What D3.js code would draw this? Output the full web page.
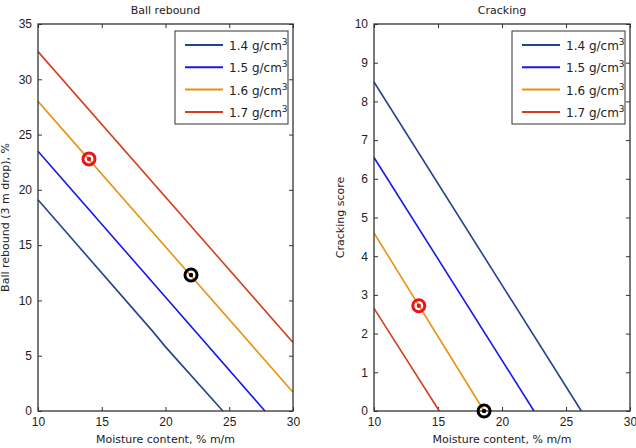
<!DOCTYPE html>
<html>
<head>
<meta charset="utf-8">
<script src="https://cdn.jsdelivr.net/npm/d3@7"></script>
<style>
  body { margin: 0; background: #fff; }
  svg { font-family: "DejaVu Sans", sans-serif; }
</style>
</head>
<body>
<div id="chart"></div>
<script>
// densities, shared by both panels
const densities = ["1.4", "1.5", "1.6", "1.7"];
const colors = ["#26418f", "#1717f0", "#e8930f", "#d33f1d"];

// Ball rebound panel: [moisture, rebound]
const rebound14 = [[10, 19.1], [19, 7.2], [20, 5.8], [24.5, 0]];
const rebound15 = [[10, 23.5], [27.8, 0]];
const rebound16 = [[10, 28.0], [30, 1.7]];
const rebound17 = [[10, 32.5], [30, 6.2]];
const reboundRed = [14, 22.8];
const reboundBlack = [22, 12.3];
const reboundTicksY = [0, 5, 10, 15, 20, 25, 30, 35];

// Cracking panel: [moisture, score]
const crack14 = [[10, 8.5], [26.2, 0]];
const crack15 = [[10, 6.55], [22.5, 0]];
const crack16 = [[10, 4.6], [18.6, 0]];
const crack17 = [[10, 2.65], [15.1, 0]];
const crackRed = [13.5, 2.72];
const crackBlack = [18.6, 0];
const crackTicksY = [0, 1, 2, 3, 4, 5, 6, 7, 8, 9, 10];

const xTicks = [10, 15, 20, 25, 30];

const svg = d3.select("#chart").append("svg")
  .attr("width", 636).attr("height", 448);

function panel(opts) {
  const { left, right, top, bottom } = opts;
  const x = d3.scaleLinear().domain([10, 30]).range([left, right]);
  const y = d3.scaleLinear().domain(opts.yDomain).range([bottom, top]);
  const g = svg.append("g");

  // ticks inside, all four sides
  const tk = 4;
  g.append("g").attr("transform", `translate(0,${bottom})`)
    .call(d3.axisBottom(x).tickValues(xTicks).tickSizeInner(-tk).tickSizeOuter(0).tickPadding(6))
    .call(a => a.select(".domain").remove())
    .selectAll("text").style("font-size", "12px").attr("fill", "#222");
  g.append("g").attr("transform", `translate(0,${top})`)
    .call(d3.axisTop(x).tickValues(xTicks).tickSizeInner(-tk).tickSizeOuter(0).tickFormat(""))
    .call(a => a.select(".domain").remove());
  g.append("g").attr("transform", `translate(${left},0)`)
    .call(d3.axisLeft(y).tickValues(opts.yTicks).tickSizeInner(-tk).tickSizeOuter(0).tickPadding(6))
    .call(a => a.select(".domain").remove())
    .selectAll("text").style("font-size", "12px").attr("fill", "#222");
  g.append("g").attr("transform", `translate(${right},0)`)
    .call(d3.axisRight(y).tickValues(opts.yTicks).tickSizeInner(-tk).tickSizeOuter(0).tickFormat(""))
    .call(a => a.select(".domain").remove());
  g.selectAll(".tick line").attr("stroke", "#333");

  const line = d3.line().x(d => x(d[0])).y(d => y(d[1]));
  opts.series.forEach((s, i) => {
    g.append("path").attr("d", line(s))
      .attr("fill", "none").attr("stroke", colors[i]).attr("stroke-width", 1.6);
  });

  // frame
  g.append("rect").attr("x", left).attr("y", top)
    .attr("width", right - left).attr("height", bottom - top)
    .attr("fill", "none").attr("stroke", "#333").attr("stroke-width", 1.3);

  // target markers
  [[opts.red, "#e8141a"], [opts.black, "#000"]].forEach(([p, c]) => {
    g.append("circle").attr("cx", x(p[0])).attr("cy", y(p[1])).attr("r", 6)
      .attr("fill", "none").attr("stroke", c).attr("stroke-width", 3);
    g.append("circle").attr("cx", x(p[0])).attr("cy", y(p[1])).attr("r", 2.2).attr("fill", c);
  });

  // legend
  const lg = g.append("g").attr("transform", `translate(${right - 118},${top + 7})`);
  lg.append("rect").attr("width", 113).attr("height", 93)
    .attr("fill", "#fff").attr("stroke", "#333").attr("stroke-width", 1);
  densities.forEach((d, i) => {
    const yy = 14 + i * 22.3;
    lg.append("line").attr("x1", 10).attr("x2", 48).attr("y1", yy).attr("y2", yy)
      .attr("stroke", colors[i]).attr("stroke-width", 2);
    const t = lg.append("text").attr("x", 54).attr("y", yy + 5)
      .style("font-size", "12px").attr("fill", "#222");
    t.append("tspan").text(d + " g/cm");
    t.append("tspan").attr("dy", -5).style("font-size", "9px").text("3");
  });

  // titles
  g.append("text").attr("x", (left + right) / 2).attr("y", 14)
    .attr("text-anchor", "middle").style("font-size", "11px").attr("fill", "#222").text(opts.title);
  g.append("text").attr("x", (left + right) / 2).attr("y", 443)
    .attr("text-anchor", "middle").style("font-size", "11px").attr("fill", "#222")
    .text("Moisture content, % m/m");
  g.append("text")
    .attr("transform", `translate(${opts.ylabX},${(top + bottom) / 2}) rotate(-90)`)
    .attr("text-anchor", "middle").style("font-size", "11px").attr("fill", "#222")
    .text(opts.ylabel);
}

panel({
  left: 38, right: 293, top: 24, bottom: 411,
  yDomain: [0, 35], yTicks: reboundTicksY,
  series: [rebound14, rebound15, rebound16, rebound17],
  red: reboundRed, black: reboundBlack,
  title: "Ball rebound", ylabel: "Ball rebound (3 m drop), %", ylabX: 9
});

panel({
  left: 374, right: 630, top: 24, bottom: 411,
  yDomain: [0, 10], yTicks: crackTicksY,
  series: [crack14, crack15, crack16, crack17],
  red: crackRed, black: crackBlack,
  title: "Cracking", ylabel: "Cracking score", ylabX: 344
});
</script>
</body>
</html>
